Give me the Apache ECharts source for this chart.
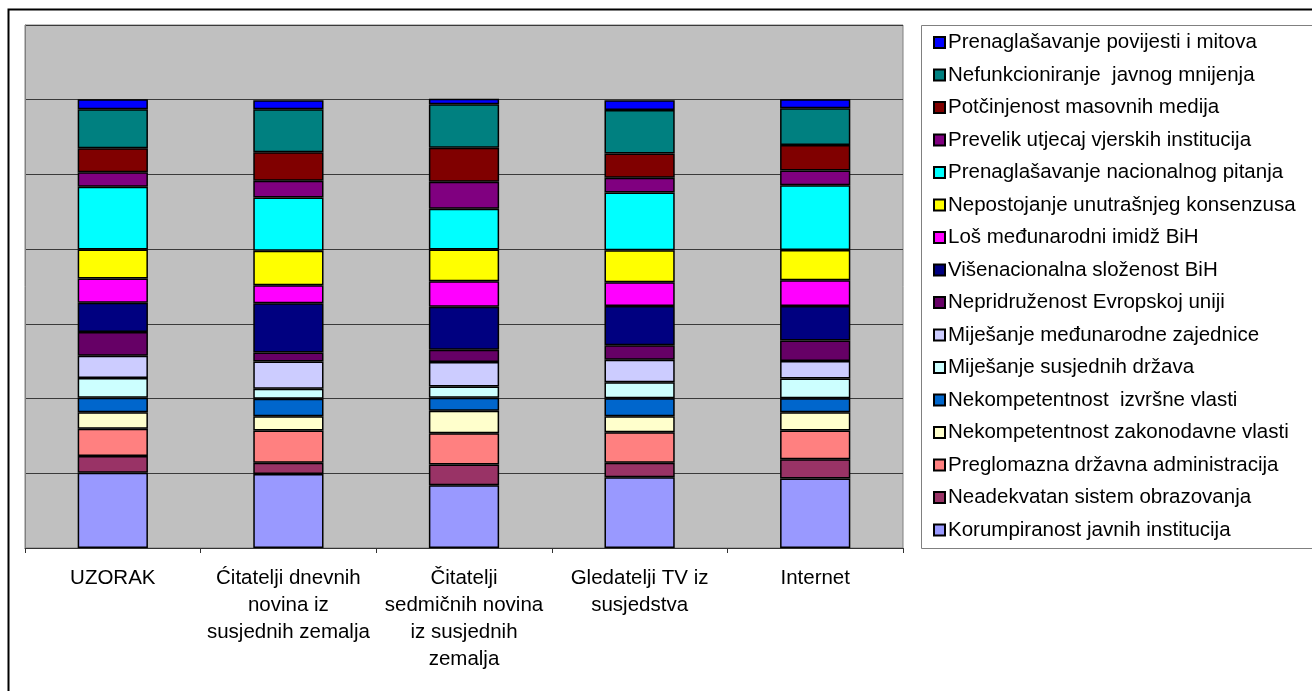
<!DOCTYPE html>
<html>
<head>
<meta charset="utf-8">
<script src="https://cdn.jsdelivr.net/npm/echarts@6/dist/echarts.min.js"></script>
<style>
html,body{margin:0;padding:0;background:#fff;}
#c{width:1312px;height:691px;}
</style>
</head>
<body>
<div id="c"></div>
<script>
var categories = ['UZORAK', 'Ćitatelji dnevnih\nnovina iz\nsusjednih zemalja', 'Čitatelji\nsedmičnih novina\niz susjednih\nzemalja', 'Gledatelji TV iz\nsusjedstva', 'Internet'];

// series values (bottom to top of stack)
var korumpiranost = [16.8, 16.5, 14.0, 15.8, 15.5];
var neadekvatan = [3.7, 2.5, 4.6, 3.2, 4.3];
var preglomazna = [6.1, 7.2, 7.0, 6.8, 6.4];
var zakonodavne = [3.7, 3.2, 5.0, 3.6, 4.1];
var izvrsne = [3.2, 3.9, 2.9, 4.0, 3.1];
var susjednih = [4.4, 2.2, 2.5, 3.6, 4.4];
var medjunarodne = [5.0, 6.1, 5.5, 5.0, 3.9];
var evropskaUnija = [5.3, 2.0, 2.7, 3.2, 4.6];
var visenacionalna = [6.5, 11.0, 9.6, 8.8, 7.7];
var imidz = [5.4, 4.0, 5.7, 5.3, 5.7];
var konsenzus = [6.5, 7.7, 7.1, 7.1, 6.8];
var nacionalno = [14.0, 11.9, 9.1, 12.9, 14.4];
var vjerske = [3.2, 3.7, 6.0, 3.3, 3.3];
var mediji = [5.4, 6.4, 7.6, 5.4, 5.7];
var mnijenje = [8.7, 9.6, 9.7, 9.7, 8.2];
var povijest = [2.2, 2.0, 1.2, 2.2, 2.0];

var seriesNames = [
  'Korumpiranost javnih institucija',
  'Neadekvatan sistem obrazovanja',
  'Preglomazna državna administracija',
  'Nekompetentnost zakonodavne vlasti',
  'Nekompetentnost  izvršne vlasti',
  'Miješanje susjednih država',
  'Miješanje međunarodne zajednice',
  'Nepridruženost Evropskoj uniji',
  'Višenacionalna složenost BiH',
  'Loš međunarodni imidž BiH',
  'Nepostojanje unutrašnjeg konsenzusa',
  'Prenaglašavanje nacionalnog pitanja',
  'Prevelik utjecaj vjerskih institucija',
  'Potčinjenost masovnih medija',
  'Nefunkcioniranje  javnog mnijenja',
  'Prenaglašavanje povijesti i mitova'
];
var seriesValues = [korumpiranost, neadekvatan, preglomazna, zakonodavne, izvrsne, susjednih, medjunarodne, evropskaUnija, visenacionalna, imidz, konsenzus, nacionalno, vjerske, mediji, mnijenje, povijest];
var seriesColors = ['#9999FF', '#993366', '#FF8080', '#FFFFCC', '#0066CC', '#CCFFFF', '#CCCCFF', '#660066', '#000080', '#FF00FF', '#FFFF00', '#00FFFF', '#800080', '#800000', '#008080', '#0000FF'];

var series = seriesNames.map(function (n, i) {
  return {
    name: n,
    type: 'bar',
    stack: 'total',
    barWidth: '40%',
    data: seriesValues[i],
    itemStyle: { color: seriesColors[i], borderColor: '#000', borderWidth: 1.5 }
  };
});

var chart = echarts.init(document.getElementById('c'));
chart.setOption({
  animation: false,
  backgroundColor: '#fff',
  textStyle: { fontFamily: 'Liberation Sans, Arial, sans-serif' },
  graphic: [
    { type: 'rect', shape: { x: 8.5, y: 9.5, width: 1330, height: 720 }, style: { fill: null, stroke: '#000', lineWidth: 2 }, z: 100 },
    { type: 'rect', shape: { x: 921.5, y: 25.5, width: 420, height: 523 }, style: { fill: '#fff', stroke: '#808080', lineWidth: 1 }, z: -1 }
  ],
  grid: { left: 25, right: 409, top: 25, bottom: 143, show: true, backgroundColor: '#C0C0C0', borderColor: '#808080', borderWidth: 1 },
  legend: {
    orient: 'vertical',
    left: 928,
    top: 27,
    itemWidth: 11,
    itemHeight: 11,
    itemGap: 11.5,
    icon: 'rect',
    data: seriesNames.slice().reverse(),
    textStyle: { fontSize: 20.5, lineHeight: 20, color: '#000', padding: [0, 0, 0, -2] }
  },
  xAxis: {
    type: 'category',
    data: categories,
    axisLine: { lineStyle: { color: '#333', width: 1 } },
    axisTick: { show: true, length: 5, lineStyle: { color: '#333' } },
    axisLabel: { interval: 0, fontSize: 20.5, lineHeight: 27, color: '#000', margin: 17 }
  },
  yAxis: {
    type: 'value',
    min: 0,
    max: 700 / 6,
    interval: 100 / 6,
    axisLabel: { show: false },
    axisTick: { show: false },
    axisLine: { show: true, lineStyle: { color: '#808080' } },
    splitLine: { lineStyle: { color: '#3a3a3a', width: 1 } }
  },
  series: series
});
</script>
</body>
</html>
